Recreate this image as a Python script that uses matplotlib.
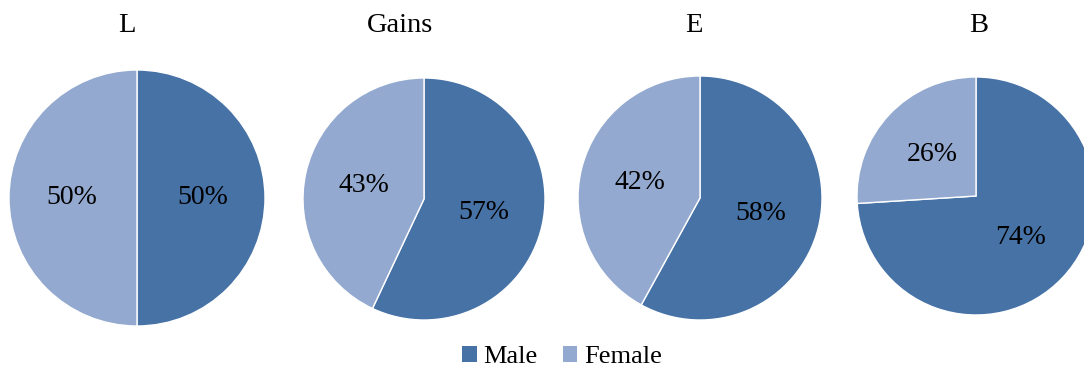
import matplotlib
matplotlib.use("Agg")
import matplotlib.pyplot as plt
from matplotlib.patches import Patch

plt.rcParams['font.family'] = ['Liberation Serif', 'DejaVu Serif']

titles = ["L", "Gains", "E", "B"]
series = ["Male", "Female"]
male = [50, 57, 58, 74]
female = [50, 43, 42, 26]
colors = ["#4672A6", "#93A9CF"]

W, H = 1084, 369
fig = plt.figure(figsize=(W / 100, H / 100), dpi=100)

# pie centre (x, y from top) and radius, in pixels
centers = [(137, 198, 128), (424, 199, 121), (700, 198, 122), (976, 196, 119)]
title_x = [127, 400, 694, 979]
pad = 1.04

for i, (cx, cy, r) in enumerate(centers):
    rr = r * pad
    ax = fig.add_axes([(cx - rr) / W, (H - cy - rr) / H, 2 * rr / W, 2 * rr / H])
    ax.pie([male[i], female[i]], colors=colors, startangle=90, counterclock=False,
           autopct=lambda p: f"{p:.0f}%", pctdistance=0.51, radius=1,
           wedgeprops=dict(edgecolor="white", linewidth=1),
           textprops=dict(fontsize=20, color="black"))
    ax.set_xlim(-pad, pad)
    ax.set_ylim(-pad, pad)
    ax.axis("off")
    fig.text(title_x[i] / W, 1 - 25 / H, titles[i], ha="center", va="center", fontsize=20.5)

handles = [Patch(facecolor=c, edgecolor="none") for c in colors]
fig.legend(handles, series, loc="center", bbox_to_anchor=(562 / W, 1 - 357 / H), ncol=2,
           frameon=False, fontsize=19, handlelength=0.55, handleheight=0.55,
           handletextpad=0.25, columnspacing=0.95, borderpad=0, borderaxespad=0)

fig.savefig("out.png", dpi=100)
